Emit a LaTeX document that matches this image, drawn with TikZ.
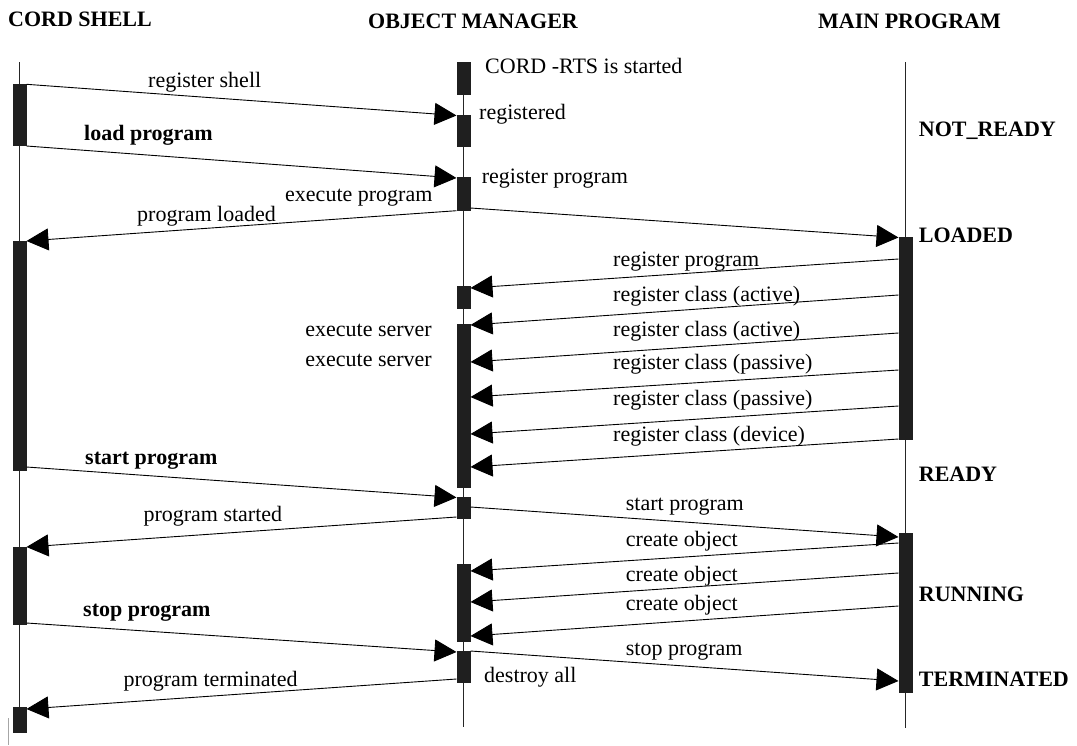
\documentclass[tikz,border=0pt]{standalone}
\usepackage{fontspec}
\setmainfont{Liberation Serif}
\usetikzlibrary{arrows.meta}
\begin{document}
\begin{tikzpicture}[x=1pt,y=-1pt,
  life/.style={draw=black!85, line width=0.9pt},
  bar/.style={fill=black!88, draw=none, inner sep=0pt, minimum width=14pt, anchor=north},
  msg/.style={draw=black, line width=0.9pt, -{Triangle[length=22pt,width=22pt]}},
  lab/.style={font=\fontsize{22}{26}\selectfont, inner sep=0pt, anchor=base west},
  blab/.style={font=\fontsize{22}{26}\selectfont\bfseries, inner sep=0pt, anchor=base west}]
\useasboundingbox (0,0) rectangle (1077,745);
% headers
\node[blab] (hs) at (8,26) {CORD SHELL};
\node[blab] (ho) at (368,28.3) {OBJECT MANAGER};
\node[blab] (hm) at (818,28.3) {MAIN PROGRAM};
% lifelines
\coordinate (ls0) at (19,62); \coordinate (ls1) at (19,733);
\coordinate (lo0) at (463.5,62); \coordinate (lo1) at (463.5,727);
\coordinate (lm0) at (905,62); \coordinate (lm1) at (905,728);
\draw[life] (ls0) -- (ls1);
\draw[life] (lo0) -- (lo1);
\draw[life] (lm0) -- (lm1);
\coordinate (g0) at (8.5,718); \coordinate (g1) at (8.5,745);
\draw[black!35, line width=0.8pt] (g0) -- (g1);
% activation bars
\node[bar, minimum height=62pt] (s1) at (19.5,84) {};
\node[bar, minimum height=230pt] (s2) at (19.5,241) {};
\node[bar, minimum height=78pt] (s3) at (19.5,547) {};
\node[bar, minimum height=26pt] (s4) at (19.5,707) {};
\node[bar, minimum height=33pt] (o1) at (463.5,62) {};
\node[bar, minimum height=32pt] (o2) at (463.5,115) {};
\node[bar, minimum height=34pt] (o3) at (463.5,177) {};
\node[bar, minimum height=23pt] (o4) at (463.5,286) {};
\node[bar, minimum height=164pt] (o5) at (463.5,324) {};
\node[bar, minimum height=22pt] (o6) at (463.5,497) {};
\node[bar, minimum height=78pt] (o7) at (463.5,564) {};
\node[bar, minimum height=32pt] (o8) at (463.5,651) {};
\node[bar, minimum height=203pt] (p1) at (905.5,237) {};
\node[bar, minimum height=160pt] (p2) at (905.5,533) {};
% message end points
\coordinate (a1) at (26.5,84.3);   \coordinate (b1) at (456.5,115.5);
\coordinate (a2) at (26.5,146);    \coordinate (b2) at (456.5,178);
\coordinate (a3) at (470.5,208);   \coordinate (b3) at (898.5,237.5);
\coordinate (a4) at (456.5,210.7); \coordinate (b4) at (26.5,241);
\coordinate (a5) at (898.5,259);   \coordinate (b5) at (470.5,288);
\coordinate (a6) at (898.5,295);   \coordinate (b6) at (470.5,325);
\coordinate (a7) at (898.5,333);   \coordinate (b7) at (470.5,362);
\coordinate (a8) at (898.5,370);   \coordinate (b8) at (470.5,397);
\coordinate (a9) at (898.5,406);   \coordinate (b9) at (470.5,434);
\coordinate (a10) at (898.5,439);  \coordinate (b10) at (470.5,467);
\coordinate (a11) at (26.5,467);   \coordinate (b11) at (456.5,497.5);
\coordinate (a12) at (456.5,517);  \coordinate (b12) at (26.5,547);
\coordinate (a13) at (470.5,507);  \coordinate (b13) at (898.5,537);
\coordinate (a14) at (898.5,543);  \coordinate (b14) at (470.5,571);
\coordinate (a15) at (898.5,573);  \coordinate (b15) at (470.5,602);
\coordinate (a16) at (898.5,606);  \coordinate (b16) at (470.5,636);
\coordinate (a17) at (26.5,623);   \coordinate (b17) at (456.5,652);
\coordinate (a18) at (470.5,651);  \coordinate (b18) at (898.5,681);
\coordinate (a19) at (456.5,679);  \coordinate (b19) at (26.5,709);
\foreach \i in {1,...,19} {\draw[msg] (a\i) -- (b\i);}
% message labels
\node[lab] (t1) at (148,87.3) {register shell};
\node[blab] (t2) at (84,140) {load program};
\node[lab] (t3) at (285,201.7) {execute program};
\node[lab] (t4) at (137,221.7) {program loaded};
\node[lab] (t5) at (613,266) {register program};
\node[lab] (t6) at (613,301.7) {register class (active)};
\node[lab] (t7) at (613,336) {register class (active)};
\node[lab] (t8) at (613,369.3) {register class (passive)};
\node[lab] (t9) at (613,405) {register class (passive)};
\node[lab] (t10) at (613,441.7) {register class (device)};
\node[blab] (t11) at (85,464) {start program};
\node[lab] (t12) at (143.3,521.7) {program started};
\node[lab] (t13) at (625.7,510.7) {start program};
\node[lab] (t14) at (625.7,546) {create object};
\node[lab] (t15) at (625.7,581.7) {create object};
\node[lab] (t16) at (625.7,610.7) {create object};
\node[blab] (t17) at (83,616.7) {stop program};
\node[lab] (t18) at (625.7,655) {stop program};
\node[lab] (t19) at (123.3,686.7) {program terminated};
% object manager notes
\node[lab] (n1) at (485,73.3) {CORD -RTS is started};
\node[lab] (n2) at (479,119) {registered};
\node[lab] (n3) at (481.7,183.3) {register program};
\node[lab, anchor=base east] (n4) at (432,336) {execute server};
\node[lab, anchor=base east] (n5) at (432,366) {execute server};
\node[lab] (n6) at (484,682.7) {destroy all};
% states
\node[blab] (st1) at (918.7,136.7) {NOT\_READY};
\node[blab] (st2) at (918.7,242) {LOADED};
\node[blab] (st3) at (918.7,481.7) {READY};
\node[blab] (st4) at (918.7,601.7) {RUNNING};
\node[blab] (st5) at (918.7,686) {TERMINATED};
\end{tikzpicture}
\end{document}
